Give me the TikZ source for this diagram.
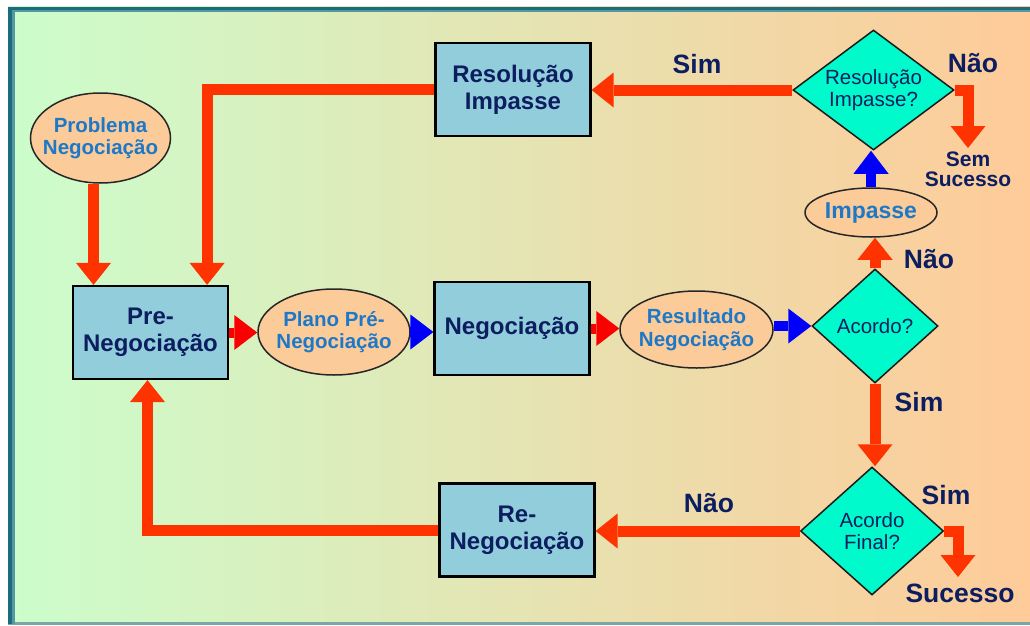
\documentclass[tikz,border=0pt]{standalone}
\usepackage{fontspec}
\setmainfont{Liberation Sans}
\usetikzlibrary{arrows.meta,shapes.geometric}

\definecolor{bgleft}{RGB}{204,253,204}
\definecolor{bgright}{RGB}{254,203,153}
\definecolor{framedark}{RGB}{28,108,126}
\definecolor{framelight}{RGB}{84,152,162}
\definecolor{framebot}{RGB}{122,166,166}
\definecolor{boxfill}{RGB}{146,205,220}
\definecolor{ellfill}{RGB}{251,203,153}
\definecolor{diafill}{RGB}{0,250,204}
\definecolor{navy}{RGB}{12,30,96}
\definecolor{ellblue}{RGB}{30,120,200}
\definecolor{flowred}{RGB}{255,51,0}
\definecolor{purered}{RGB}{250,0,0}
\definecolor{flowblue}{RGB}{0,0,250}

\begin{document}
\begin{tikzpicture}[x=1pt,y=-1pt,
  procbox/.style={rectangle, draw=black, line width=2.2pt, fill=boxfill,
    minimum width=155pt, minimum height=93pt, inner sep=2pt,
    align=center, text=navy, font=\fontsize{24}{27}\selectfont\bfseries},
  termell/.style={ellipse, draw=black!85, line width=1.5pt, fill=ellfill, inner sep=0pt},
  decision/.style={diamond, draw=black!90, line width=1.5pt, fill=diafill, inner sep=0pt},
  elltext/.style={inner sep=0pt, align=center, text=ellblue,
    font=\fontsize{20.5}{22.5}\selectfont\bfseries},
  diatext/.style={inner sep=0pt, align=center, text=navy,
    font=\fontsize{20.5}{22}\selectfont},
  branch/.style={inner sep=0pt, align=center, text=navy,
    font=\fontsize{26.5}{28}\selectfont\bfseries},
  flow/.style={draw=flowred, line width=11pt,
    -{Triangle[width=35pt,length=22pt,line width=0pt]}},
  stub/.style={line width=10pt,
    -{Triangle[width=35pt,length=23pt,line width=0pt]}}
]
\useasboundingbox (0,0) rectangle (1030,626);

% page and framed panel
\fill[white] (0,0) rectangle (1030,626);
\shade[left color=bgleft, right color=bgright] (8,7) rectangle (1030,624);
\fill[framebot] (8,622) rectangle (1030,625);
\fill[framelight] (8,7) rectangle (15,624);
\fill[framelight] (8,7) rectangle (1030,12);
\fill[framedark] (8,7) rectangle (12,624);
\fill[framedark] (8,7) rectangle (1030,10.5);

% process boxes
\node[procbox] (pre)    at (150.5,332.5) {Pre-\\Negociação};
\node[procbox] (neg)    at (512,328.5)   {Negociação};
\node[procbox] (resimp) at (513,89.5)    {Resolução\\Impasse};
\node[procbox] (reneg)  at (517,530)     {Re-\\Negociação};

% ellipses
\node[termell, minimum width=140pt, minimum height=90pt] (prob)    at (100.5,138) {};
\node[termell, minimum width=152pt, minimum height=86pt] (plano)   at (334,332)   {};
\node[termell, minimum width=153pt, minimum height=77pt] (res)     at (696.5,329.5) {};
\node[termell, minimum width=132pt, minimum height=49pt] (impasse) at (871,212.5) {};
\node[elltext] (prob-t)    at (prob)    {Problema\\Negociação};
\node[elltext] (plano-t)   at (plano)   {Plano Pré-\\Negociação};
\node[elltext] (res-t)     at (res)     {Resultado\\Negociação};
\node[elltext, font=\fontsize{23}{25}\selectfont\bfseries] (impasse-t) at (impasse) {Impasse};

% decisions
\node[decision, minimum width=126pt, minimum height=114pt] (acordo) at (875,326)  {};
\node[decision, minimum width=161pt, minimum height=120pt] (resq)   at (873.5,90) {};
\node[decision, minimum width=143pt, minimum height=128pt] (final)  at (872,531)  {};
\node[diatext] (acordo-t) at (acordo) {Acordo?};
\node[diatext] (resq-t)   at (resq)   {Resolução\\Impasse?};
\node[diatext] (final-t)  at (final)  {Acordo\\Final?};

% loose ends of the exits
\coordinate (semsuc) at (968,148);
\coordinate (suc)    at (958,577);

% main line of the flow
\draw[stub, draw=purered, fill=purered] (pre.east) -- (pre.east -| plano.west);
\draw[stub, draw=flowblue, fill=flowblue] (plano.east) -- (plano.east -| neg.west);
\draw[stub, draw=purered, fill=purered] (neg.east) -- (neg.east -| res.west);
\draw[stub, draw=flowblue, fill=flowblue] (acordo.west -| res.east) -- (acordo.west);

% entry and loops back into pre-negotiation
\draw[flow] ([xshift=-7pt]prob.south) -- ([xshift=-7pt]prob.south |- pre.north);
\draw[flow] (resimp.west) -| ([xshift=-22pt]pre.north east);
\draw[flow] (reneg.west) -| ([xshift=-3pt]pre.south);

% decisions and their outcomes
\draw[flow] (resq.west) -- (resq.west -| resimp.east);
\draw[flow] (resq.east) -| (semsuc);
\draw[stub, draw=flowblue, fill=flowblue] (impasse.north) -- (impasse.north |- resq.south);
\draw[flow] (acordo.north) -- (acordo.north |- impasse.south);
\draw[flow] (acordo.south) -- (acordo.south |- final.north);
\draw[flow] (final.west) -- (final.west -| reneg.east);
\draw[flow] (final.east) -| (suc);

% branch labels
\node[branch] (l-sim1)  at (697,64)  {Sim};
\node[branch] (l-nao1)  at (973,63)  {Não};
\node[branch, font=\fontsize{21}{20}\selectfont\bfseries] (l-semsuc) at (968,169) {Sem\\Sucesso};
\node[branch] (l-nao2)  at (929,259) {Não};
\node[branch] (l-sim2)  at (919,402) {Sim};
\node[branch] (l-nao3)  at (709,503) {Não};
\node[branch] (l-sim3)  at (946,495) {Sim};
\node[branch] (l-suc)   at (960,593) {Sucesso};
\end{tikzpicture}
\end{document}
